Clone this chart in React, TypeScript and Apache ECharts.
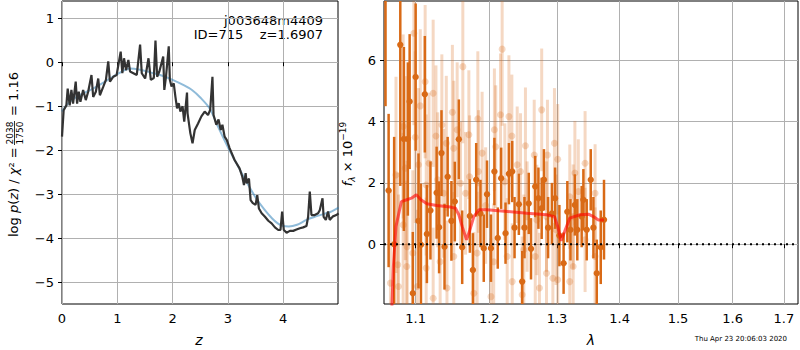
import React, { useEffect, useRef } from 'react';
import * as echarts from 'echarts';

const FONT = 'DejaVu Sans';

// ---- left panel: log p(z) ----
const pzCurve: number[][] = [
  [0, -1.69], [0.03, -1.09], [0.079, -0.98], [0.103, -0.6], [0.139, -0.98], [0.17, -0.63], [0.2, -0.94],
  [0.248, -0.44], [0.273, -0.94], [0.303, -0.67], [0.333, -0.9], [0.382, -0.63], [0.43, -0.86], [0.473, -0.67],
  [0.533, -0.29], [0.564, -0.79], [0.612, -0.67], [0.655, -0.37], [0.685, -0.75], [0.745, -0.56], [0.794, -0.4],
  [0.836, 0.02], [0.867, -0.44], [0.927, -0.33], [0.988, -0.29], [1.061, 0.24], [1.091, -0.25], [1.121, 0.09],
  [1.158, -0.18], [1.2, 0.05], [1.23, -0.21], [1.291, -0.25], [1.352, -0.29], [1.412, 0.4], [1.442, -0.25],
  [1.503, -0.37], [1.564, 0.09], [1.606, -0.4], [1.66, -0.36], [1.69, 0.49], [1.72, -0.33], [1.76, -0.21],
  [1.83, 0.13], [1.85, -0.63], [1.88, -0.33], [1.93, 0.36], [1.95, -0.4], [1.98, -0.55], [2.02, -0.48],
  [2.05, -0.78], [2.08, -1.05], [2.11, -0.93], [2.14, -1.12], [2.18, -1.0], [2.21, -1.35], [2.26, -0.69],
  [2.27, -1.16], [2.32, -1.61], [2.36, -1.84], [2.4, -1.54], [2.46, -1.39], [2.52, -1.23], [2.58, -1.12],
  [2.64, -1.2], [2.68, -1.08], [2.72, -0.33], [2.74, -1.2], [2.79, -1.42], [2.83, -1.3], [2.87, -1.54],
  [2.9, -1.42], [2.94, -1.69], [2.98, -1.77], [3.03, -1.95], [3.12, -2.22], [3.21, -2.41], [3.26, -2.6],
  [3.29, -2.79], [3.32, -2.52], [3.34, -2.75], [3.38, -2.64], [3.41, -3.13], [3.45, -3.2], [3.5, -3.24],
  [3.53, -3.02], [3.56, -3.32], [3.61, -3.43], [3.67, -3.51], [3.73, -3.6], [3.79, -3.66], [3.85, -3.75],
  [3.91, -3.81], [3.95, -3.81], [3.98, -3.39], [4.01, -3.81], [4.06, -3.87], [4.12, -3.83], [4.18, -3.83],
  [4.24, -3.8], [4.3, -3.77], [4.36, -3.75], [4.42, -3.72], [4.45, -3.51], [4.48, -2.94], [4.51, -3.47],
  [4.57, -3.47], [4.63, -3.43], [4.66, -3.36], [4.71, -3.09], [4.73, -3.51], [4.77, -3.58], [4.81, -3.39],
  [4.84, -3.58], [4.9, -3.5], [4.96, -3.47], [5.0, -3.43],
];
const pzSmooth: number[][] = [
  [0, -1.12], [0.1, -0.95], [0.26, -0.79], [0.56, -0.6], [0.87, -0.37], [1, -0.27], [1.23, -0.14],
  [1.41, -0.17], [1.6, -0.23], [1.8, -0.3], [2, -0.4], [2.2, -0.52], [2.35, -0.63], [2.5, -0.8],
  [2.67, -1.05], [2.82, -1.46], [3.0, -1.93], [3.2, -2.4], [3.35, -2.75], [3.5, -3.07], [3.65, -3.33],
  [3.8, -3.55], [3.9, -3.66], [4, -3.72], [4.1, -3.73], [4.25, -3.69], [4.42, -3.58], [4.55, -3.52],
  [4.7, -3.46], [4.85, -3.4], [5, -3.3],
];
const zTicks = [0, 1, 2, 3, 4];
const pzTicks = [-5, -4, -3, -2, -1, 0, 1];

// ---- right panel: spectrum [lambda, flux, err] ----
const specDark: number[][] = [
  [1.0615, 9.5, 5.0], [1.0654, 1.75, 2.5], [1.0724, 0.0, 3.5], [1.0802, 6.5, 4.6], [1.0848, 3.43, 3.0],
  [1.0899, 3.43, 2.5], [1.0922, 4.65, 2.2], [1.0963, -1.6, 2.0], [1.1, 5.45, 2.4], [1.1037, 0.76, 2.2],
  [1.1069, -0.02, 2.0], [1.112, 4.89, 1.9], [1.1147, 0.33, 1.6], [1.1194, 1.1, 1.6], [1.1276, 1.68, 1.5],
  [1.1309, 0.55, 1.5], [1.1341, 2.97, 1.4], [1.1382, -0.08, 1.4], [1.1424, 2.2, 1.3], [1.1475, 0.76, 1.3],
  [1.1521, 1.39, 1.3], [1.1576, 3.42, 1.3], [1.1622, -0.1, 1.2], [1.1728, 0.92, 1.2], [1.177, -0.84, 1.2],
  [1.1816, 2.1, 1.2], [1.1876, 1.0, 1.1], [1.1922, -0.13, 1.1], [1.1968, 1.63, 1.1], [1.2024, -0.13, 1.1],
  [1.2073, 2.37, 1.1], [1.2121, 0.2, 1.0], [1.217, 2.15, 1.0], [1.2233, 0.36, 1.0], [1.2282, 2.3, 1.0],
  [1.233, 2.37, 1.0], [1.2364, 0.54, 1.0], [1.2427, 1.3, 1.0], [1.2476, -1.22, 1.0], [1.251, 0.54, 1.0],
  [1.2573, 1.33, 1.0], [1.2607, -0.15, 1.0], [1.267, 1.88, 1.0], [1.2718, 1.5, 1.0], [1.2767, 1.17, 1.0],
  [1.2801, 2.1, 1.0], [1.2864, 0.54, 1.0], [1.2922, 1.0, 1.0], [1.2971, 1.5, 1.0], [1.3037, 0.28, 1.0],
  [1.3102, -0.62, 1.0], [1.316, 1.06, 1.0], [1.3209, 0.47, 1.0], [1.3278, 1.28, 1.0], [1.3316, 0.47, 1.0],
  [1.3385, 0.9, 1.0], [1.3412, 1.45, 1.0], [1.3465, 0.47, 1.0], [1.3529, 2.1, 1.0], [1.3572, 0.54, 1.0],
  [1.3626, -0.95, 1.1], [1.369, -0.1, 1.2], [1.3743, 0.8, 1.3],
];
const specLight: number[][] = [
  [1.0977, 6.88, 3.0], [1.2184, 6.36, 2.5], [1.1631, 5.79, 2.5], [1.1124, 5.3, 2.5], [1.106, 4.51, 2.5],
  [1.123, 4.92, 2.4], [1.1488, 4.3, 2.2], [1.1839, 4.09, 2.2], [1.2767, 4.38, 2.0], [1.216, 4.22, 2.0],
  [1.2282, 4.16, 2.0], [1.1346, 3.89, 2.3], [1.1553, 3.73, 2.2], [1.2073, 3.73, 2.0], [1.2325, 3.53, 2.0],
  [1.1267, 3.53, 2.3], [1.0995, 3.49, 2.8], [1.0839, 3.84, 3.0], [1.1714, 3.57, 2.1], [1.2961, 3.29, 1.8],
  [1.1406, 3.29, 2.2], [1.1507, 3.13, 2.2], [1.1899, 2.97, 2.0], [1.2092, 3.18, 2.0], [1.2524, 3.21, 1.9],
  [1.2403, 2.59, 1.9], [1.2655, 2.91, 1.8], [1.2854, 2.91, 1.8], [1.2451, 2.37, 1.9], [1.3011, 2.77, 1.8],
  [1.3278, 2.32, 1.7], [1.3439, 2.64, 1.7], [1.1175, 2.64, 2.3], [1.1037, 2.59, 2.5], [1.129, 2.1, 2.2],
  [1.0747, 2.26, 3.2], [1.0866, 2.48, 3.0], [1.1668, 1.66, 2.0], [1.1848, 2.37, 2.0], [1.2223, 2.04, 1.9],
  [1.3198, 1.55, 1.7], [1.3332, 1.72, 1.7], [1.3599, 1.66, 1.6], [1.1138, 1.93, 2.3], [1.1369, 1.66, 2.1],
  [1.1599, 1.99, 2.0], [1.1724, 2.2, 2.0], [1.1949, 1.26, 1.9], [1.2549, 0.9, 1.8], [1.2694, 0.79, 1.8],
  [1.284, 0.9, 1.8], [1.2985, 0.47, 1.8], [1.3251, 0.9, 1.7], [1.3439, 0.14, 1.7], [1.0839, 0.63, 3.0],
  [1.0889, -0.08, 2.8], [1.0963, -0.29, 2.7], [1.077, -0.67, 3.0], [1.0885, -0.73, 2.8], [1.1138, -0.78, 2.3],
  [1.1323, -0.57, 2.2], [1.1507, -0.4, 2.1], [1.1829, -0.29, 2.0], [1.2063, -0.57, 1.9], [1.2257, -0.4, 1.9],
  [1.25, -0.18, 1.8], [1.267, -0.4, 1.8], [1.284, -0.95, 1.8], [1.2937, -1.11, 1.8], [1.3251, -0.73, 1.7],
  [1.3599, -0.4, 1.6], [1.1023, -1.38, 2.5], [1.123, -1.76, 2.3], [1.1415, -1.43, 2.2], [1.1783, -1.6, 2.0],
  [1.2024, -1.71, 1.9], [1.233, -1.22, 1.9], [1.2476, -1.65, 1.9], [1.2733, -1.43, 1.8], [1.3011, -1.16, 1.8],
  [1.3198, -1.22, 1.7], [1.0677, -1.27, 3.0], [1.0779, -1.38, 3.0],
];
const modelLine: number[][] = [
  [1.0677, -3.34], [1.0714, -0.73], [1.0747, 0.58], [1.0816, 1.39], [1.0885, 1.45], [1.0945, 1.5],
  [1.1009, 1.61], [1.1069, 1.45], [1.1147, 1.32], [1.1276, 1.26], [1.1461, 1.21], [1.153, 1.17],
  [1.1576, 0.96], [1.1622, 0.58], [1.1682, 0.14], [1.1728, 0.47], [1.1783, 0.9], [1.1853, 1.12],
  [1.1968, 1.12], [1.2257, 1.07], [1.2549, 1.01], [1.284, 0.96], [1.2961, 0.9], [1.3011, 0.58],
  [1.3064, 0.11], [1.3118, 0.41], [1.3198, 0.85], [1.3358, 0.96], [1.3492, 0.98], [1.3572, 0.9],
  [1.3652, 0.79], [1.3743, 0.79],
];
const lamTicks = [1.1, 1.2, 1.3, 1.4, 1.5, 1.6, 1.7];
const fluxTicks = [0, 2, 4, 6];
const lamMin = 1.0596;
const lamMax = 1.7285;

const DARK = '#d96a16';

const minus = (v: number) => (v < 0 ? '\u2212' + Math.abs(v) : String(v));

function errRender(color: string, opacity: number, lw: number, r: number) {
  return (params: any, api: any) => {
    const x = api.value(0);
    const y = api.value(1);
    const e = api.value(2);
    const cs = params.coordSys;
    const p = api.coord([x, y]);
    const top = api.coord([x, y + e]);
    const bot = api.coord([x, y - e]);
    const y1 = Math.max(cs.y, top[1]);
    const y2 = Math.min(cs.y + cs.height, bot[1]);
    const children: any[] = [];
    if (y2 > y1) {
      children.push({ type: 'line', shape: { x1: p[0], y1, x2: p[0], y2 }, style: { stroke: color, lineWidth: lw, opacity } });
    }
    if (p[1] >= cs.y && p[1] <= cs.y + cs.height) {
      children.push({ type: 'circle', shape: { cx: p[0], cy: p[1], r }, style: { fill: color, opacity } });
    }
    return { type: 'group', children };
  };
}

export default function App() {
  const ref = useRef<HTMLDivElement>(null);
  useEffect(() => {
    document.body.style.margin = '0';
    const chart = echarts.init(ref.current!, null, { renderer: 'svg' });
    const L = Math.log10;
    const tickLabel = { fontFamily: FONT, fontSize: 13, color: '#000' };
    const gridLine = { show: true, lineStyle: { color: '#b0b0b0', width: 1 } };
    const tick = { show: true, length: 4, lineStyle: { color: '#000', width: 1 } };
    const option: any = {
      animation: false,
      grid: [
        { left: 62, top: 1, width: 276, height: 303, show: true, borderColor: '#000', borderWidth: 1, backgroundColor: 'transparent' },
        { left: 384, top: 1, width: 414, height: 303, show: true, borderColor: '#000', borderWidth: 1, backgroundColor: 'transparent' },
      ],
      xAxis: [
        {
          type: 'value', gridIndex: 0, min: 0, max: 4.99,
          axisLine: { show: false },
          axisTick: { ...tick, customValues: zTicks },
          axisLabel: { ...tickLabel, margin: 8, customValues: zTicks, formatter: (v: number) => minus(v) },
          splitLine: gridLine,
        },
        {
          type: 'value', gridIndex: 1, min: L(lamMin), max: L(lamMax),
          axisLine: { show: false },
          axisTick: { ...tick, customValues: lamTicks.map(L) },
          axisLabel: { ...tickLabel, margin: 8, customValues: lamTicks.map(L), formatter: (v: number) => Math.pow(10, v).toFixed(1) },
          splitLine: gridLine,
        },
      ],
      yAxis: [
        {
          type: 'value', gridIndex: 0, min: -5.49, max: 1.39,
          axisLine: { show: false },
          axisTick: { ...tick, customValues: pzTicks },
          axisLabel: { ...tickLabel, margin: 8, customValues: pzTicks, formatter: (v: number) => minus(v) },
          splitLine: gridLine,
        },
        {
          type: 'value', gridIndex: 1, min: -1.95, max: 7.93,
          axisLine: { show: false },
          axisTick: { ...tick, customValues: fluxTicks },
          axisLabel: { ...tickLabel, margin: 8, customValues: fluxTicks, formatter: (v: number) => minus(v) },
          splitLine: gridLine,
        },
      ],
      series: [
        {
          type: 'line', xAxisIndex: 0, yAxisIndex: 0, data: pzSmooth, smooth: 0.3, symbol: 'none',
          lineStyle: { color: 'rgba(31,119,180,0.5)', width: 2 }, z: 2,
        },
        {
          type: 'line', xAxisIndex: 0, yAxisIndex: 0, data: pzCurve, symbol: 'none',
          lineStyle: { color: '#333333', width: 2.2 }, z: 3,
        },
        {
          type: 'custom', xAxisIndex: 1, yAxisIndex: 1, renderItem: errRender(DARK, 0.26, 3, 3.5),
          data: specLight.map((d) => [L(d[0]), d[1], d[2]]), z: 2,
        },
        {
          type: 'custom', xAxisIndex: 1, yAxisIndex: 1, renderItem: errRender(DARK, 1, 2.5, 3.2),
          data: specDark.map((d) => [L(d[0]), d[1], d[2]]), z: 3,
        },
        {
          type: 'line', xAxisIndex: 1, yAxisIndex: 1, data: modelLine.map((d) => [L(d[0]), d[1]]), symbol: 'none',
          lineStyle: { color: 'rgba(255,0,0,0.6)', width: 3 }, z: 4,
        },
        {
          type: 'line', xAxisIndex: 1, yAxisIndex: 1, data: [[L(lamMin), 0], [L(lamMax), 0]], symbol: 'none',
          lineStyle: { color: '#000', width: 2, type: [2, 4] }, z: 5,
        },
      ],
      graphic: [
        { type: 'text', x: 323, y: 20, style: { text: 'j003648m4409', fontFamily: FONT, fontSize: 13, fill: '#000', align: 'right', verticalAlign: 'middle' } },
        { type: 'text', x: 323, y: 34, style: { text: 'ID=715    z=1.6907', fontFamily: FONT, fontSize: 13, fill: '#000', align: 'right', verticalAlign: 'middle' } },
        { type: 'text', x: 199, y: 340, style: { text: 'z', fontFamily: FONT, fontStyle: 'italic', fontSize: 14, fill: '#000', align: 'center', verticalAlign: 'middle' } },
        { type: 'text', x: 591, y: 340, style: { text: 'λ', fontFamily: FONT, fontStyle: 'italic', fontSize: 14, fill: '#000', align: 'center', verticalAlign: 'middle' } },
        { type: 'text', x: 787, y: 339, style: { text: 'Thu Apr 23 20:06:03 2020', fontFamily: FONT, fontSize: 7, fill: '#000', align: 'right', verticalAlign: 'middle' } },
        {
          type: 'group', x: 13, y: 150, rotation: Math.PI / 2,
          children: [
            {
              type: 'text', x: -87, y: 0,
              style: {
                text: '{n|log }{i|p}{n|(}{i|z}{n|) / }{i|χ}{n|² =}',
                align: 'left', verticalAlign: 'middle', fill: '#000',
                rich: {
                  n: { fontFamily: FONT, fontSize: 13, fill: '#000' },
                  i: { fontFamily: FONT, fontSize: 13, fontStyle: 'italic', fill: '#000' },
                },
              },
            },
            { type: 'text', x: 17, y: -3.5, style: { text: '2038', fontFamily: FONT, fontSize: 9, fill: '#000', align: 'center', verticalAlign: 'middle' } },
            { type: 'line', shape: { x1: 5, y1: 1.5, x2: 29, y2: 1.5 }, style: { stroke: '#000', lineWidth: 0.8 } },
            { type: 'text', x: 17, y: 6.5, style: { text: '1750', fontFamily: FONT, fontSize: 9, fill: '#000', align: 'center', verticalAlign: 'middle' } },
            { type: 'text', x: 34, y: 0, style: { text: '= 1.16', fontFamily: FONT, fontSize: 13, fill: '#000', align: 'left', verticalAlign: 'middle' } },
          ],
        },
        {
          type: 'text', x: 347, y: 154, rotation: Math.PI / 2,
          style: {
            text: '{f|f}{s|λ}{n| × 10}{p|−19}',
            align: 'center', verticalAlign: 'middle', fill: '#000',
            rich: {
              f: { fontFamily: FONT, fontSize: 13, fontStyle: 'italic', lineHeight: 18, fill: '#000' },
              s: { fontFamily: FONT, fontSize: 9, fontStyle: 'italic', lineHeight: 10, verticalAlign: 'bottom', fill: '#000' },
              n: { fontFamily: FONT, fontSize: 13, lineHeight: 18, fill: '#000' },
              p: { fontFamily: FONT, fontSize: 9, lineHeight: 10, verticalAlign: 'top', fill: '#000' },
            },
          },
        },
      ],
    };
    chart.setOption(option);
    return () => chart.dispose();
  }, []);
  return <div ref={ref} style={{ width: 800, height: 350 }} />;
}
